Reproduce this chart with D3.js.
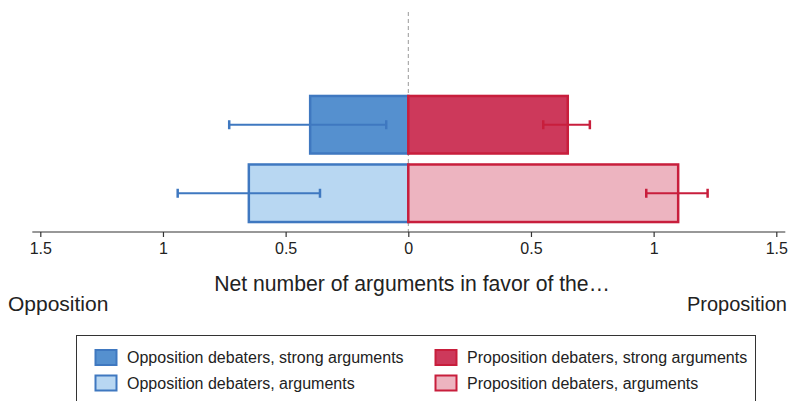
<!DOCTYPE html>
<html>
<head>
<meta charset="utf-8">
<script src="https://cdn.jsdelivr.net/npm/d3@7"></script>
<style>
  body { margin: 0; background: white; }
  svg { display: block; font-family: "Liberation Sans", Arial, sans-serif; }
</style>
</head>
<body>
<div id="vizContainer"></div>
<script>
let w = 797;
let h = 401;

// data (opposition drawn to the left as negatives)
let groups = ["strong", "arguments"];
let oppMean = [-0.40, -0.65];
let oppLo = [-0.73, -0.94];
let oppHi = [-0.09, -0.36];
let propMean = [0.65, 1.10];
let propLo = [0.55, 0.97];
let propHi = [0.74, 1.22];
let tickValues = [-1.5, -1, -0.5, 0, 0.5, 1, 1.5];
let legendLabels = [
	"Opposition debaters, strong arguments",
	"Proposition debaters, strong arguments",
	"Opposition debaters, arguments",
	"Proposition debaters, arguments"
];

let blueStroke = "#3f78c0";
let redStroke = "#c81e3c";
let fills = {
	opp: ["#5590cf", "#b8d7f2"],
	prop: ["#cd395b", "#edb4c0"]
};

let viz = d3.select("#vizContainer").append("svg")
	.attr("width", w)
	.attr("height", h)
	.style("background-color", "white");

let xScale = d3.scaleLinear().domain([-1.5, 1.5]).range([40.3, 776.3]);
let yScale = d3.scaleBand().domain(groups).range([85, 233])
	.paddingInner(0.16).paddingOuter(0.16);

let axisY = 232;

// dashed zero line
viz.append("line")
	.attr("x1", xScale(0)).attr("x2", xScale(0))
	.attr("y1", 12).attr("y2", axisY)
	.attr("stroke", "#999")
	.attr("stroke-width", 1)
	.attr("stroke-dasharray", "4,3");

let rows = groups.map(function (g, i) {
	return [
		{ g: g, side: "opp", mean: oppMean[i], lo: oppLo[i], hi: oppHi[i], fill: fills.opp[i], stroke: blueStroke },
		{ g: g, side: "prop", mean: propMean[i], lo: propLo[i], hi: propHi[i], fill: fills.prop[i], stroke: redStroke }
	];
}).flat();

let graphGroup = viz.append("g").attr("class", "graphGroup");

graphGroup.selectAll(".bar").data(rows).enter().append("rect")
	.attr("class", "bar")
	.attr("x", function (d) { return xScale(Math.min(0, d.mean)); })
	.attr("width", function (d) { return Math.abs(xScale(d.mean) - xScale(0)); })
	.attr("y", function (d) { return yScale(d.g); })
	.attr("height", yScale.bandwidth())
	.attr("fill", function (d) { return d.fill; })
	.attr("stroke", function (d) { return d.stroke; })
	.attr("stroke-width", 2.5);

let capH = 4.5;
let errs = graphGroup.selectAll(".err").data(rows).enter().append("g").attr("class", "err")
	.attr("stroke", function (d) { return d.stroke; })
	.attr("stroke-width", 2);
errs.append("line")
	.attr("x1", function (d) { return xScale(d.lo); })
	.attr("x2", function (d) { return xScale(d.hi); })
	.attr("y1", function (d) { return yScale(d.g) + yScale.bandwidth() / 2; })
	.attr("y2", function (d) { return yScale(d.g) + yScale.bandwidth() / 2; });
["lo", "hi"].forEach(function (k) {
	errs.append("line")
		.attr("stroke-width", 2.5)
		.attr("x1", function (d) { return xScale(d[k]); })
		.attr("x2", function (d) { return xScale(d[k]); })
		.attr("y1", function (d) { return yScale(d.g) + yScale.bandwidth() / 2 - capH; })
		.attr("y2", function (d) { return yScale(d.g) + yScale.bandwidth() / 2 + capH; });
});

// x axis
let xAxis = d3.axisBottom(xScale)
	.tickValues(tickValues)
	.tickSize(5)
	.tickSizeOuter(0)
	.tickPadding(6)
	.tickFormat(function (d) { return d3.format("~g")(Math.abs(d)); });

let axisG = viz.append("g")
	.attr("transform", "translate(0," + axisY + ")")
	.call(xAxis);
axisG.select(".domain").remove();
axisG.append("line")
	.attr("x1", xScale.range()[0] - 8).attr("x2", xScale.range()[1] + 9)
	.attr("stroke", "#333").attr("stroke-width", 1.2);
axisG.selectAll(".tick line").attr("stroke", "#333").attr("stroke-width", 1.2);
axisG.selectAll(".tick text")
	.attr("font-size", 16)
	.attr("font-family", "Liberation Sans, Arial, sans-serif")
	.attr("fill", "#222");

viz.append("text")
	.attr("x", 412).attr("y", 291)
	.attr("text-anchor", "middle")
	.attr("font-size", 21.2)
	.attr("fill", "#222")
	.text("Net number of arguments in favor of the\u2026");
viz.append("text")
	.attr("x", 8).attr("y", 311)
	.attr("font-size", 21)
	.attr("fill", "#222")
	.text("Opposition");
viz.append("text")
	.attr("x", 787).attr("y", 311)
	.attr("text-anchor", "end")
	.attr("font-size", 20)
	.attr("fill", "#222")
	.text("Proposition");

// legend
let legend = viz.append("g");
legend.append("rect")
	.attr("x", 76.5).attr("y", 335.5)
	.attr("width", 679).attr("height", 80)
	.attr("fill", "white")
	.attr("stroke", "#333")
	.attr("stroke-width", 1);

let legendItems = [
	{ label: legendLabels[0], fill: fills.opp[0], stroke: blueStroke, col: 0, row: 0 },
	{ label: legendLabels[1], fill: fills.prop[0], stroke: redStroke, col: 1, row: 0 },
	{ label: legendLabels[2], fill: fills.opp[1], stroke: blueStroke, col: 0, row: 1 },
	{ label: legendLabels[3], fill: fills.prop[1], stroke: redStroke, col: 1, row: 1 }
];
let li = legend.selectAll(".li").data(legendItems).enter().append("g")
	.attr("transform", function (d) {
		return "translate(" + (95 + d.col * 340) + "," + (349.5 + d.row * 25.5) + ")";
	});
li.append("rect")
	.attr("x", 0.5).attr("y", 0.5)
	.attr("width", 21).attr("height", 15)
	.attr("fill", function (d) { return d.fill; })
	.attr("stroke", function (d) { return d.stroke; })
	.attr("stroke-width", 2);
li.append("text")
	.attr("x", 32).attr("y", 13.5)
	.attr("font-size", 16)
	.attr("fill", "#222")
	.text(function (d) { return d.label; });
</script>
</body>
</html>
